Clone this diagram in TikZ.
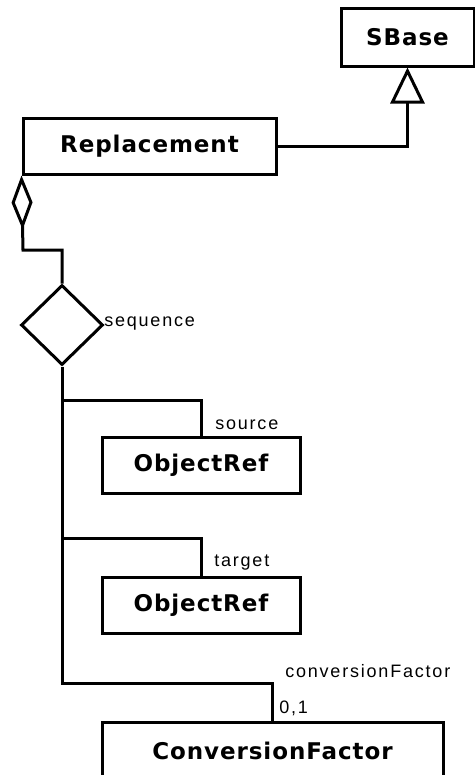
\documentclass[tikz,border=0pt]{standalone}
\usepackage{fontspec}
\usetikzlibrary{shapes.geometric, arrows.meta}
\newfontfamily\classfont[LetterSpace=4]{DejaVu Sans}
\newfontfamily\rolefont[LetterSpace=10]{Liberation Sans}

\tikzset{
  classbox/.style={draw, line width=2.25pt, inner sep=0, font=\classfont\bfseries\fontsize{17.25}{20}\selectfont},
  rolelabel/.style={inner sep=0, anchor=base west, font=\rolefont\fontsize{13.5}{16}\selectfont},
  link/.style={line width=2.25pt}
}

\begin{document}
\begin{tikzpicture}[x=0.75pt, y=-0.75pt]
\useasboundingbox (0,0) rectangle (475,775);
\clip (0,0) rectangle (475,775);

\node[classbox, minimum width=99.75pt, minimum height=43.5pt] (sbase) at (407.5,37) {SBase};
\node[classbox, minimum width=189.75pt, minimum height=42pt] (replacement) at (149.5,146) {Replacement};

\node[draw, diamond, line width=2.25pt, inner sep=0, minimum width=61.5pt, minimum height=60pt] (sequence) at (62,325) {};
\node[rolelabel] (seqlabel) at (104,326) {sequence};

\node[classbox, minimum width=148.5pt, minimum height=42pt] (source) at (201,465) {ObjectRef};
\node[classbox, minimum width=148.5pt, minimum height=42pt] (target) at (201,605) {ObjectRef};
\node[classbox, minimum width=255.75pt, minimum height=43.5pt] (factor) at (272.5,751) {ConversionFactor};

% inheritance
\draw[link, -{Triangle[open, length=27pt, width=25.5pt]}] (replacement.east) -| (sbase.south);

% containment
\coordinate (aggbend) at (23,250);
\draw[link, {Diamond[open, length=40.5pt, width=15.75pt]}-] (replacement.south west) -- (aggbend) -| (sequence.north);

\coordinate (jsource) at (62,400);
\coordinate (jtarget) at (62,538);
\coordinate (jfactor) at (62,683);
\draw[link] (sequence.south) -- (jfactor) -| (factor.north);
\draw[link] (jsource) -| (source.north);
\draw[link] (jtarget) -| (target.north);

\node[rolelabel] (srclabel) at (215,429) {source};
\node[rolelabel] (tgtlabel) at (214,566) {target};
\node[rolelabel] (cflabel) at (285,677) {conversionFactor};
\node[rolelabel] (cfmult) at (279,713) {0,1};

\end{tikzpicture}
\end{document}
